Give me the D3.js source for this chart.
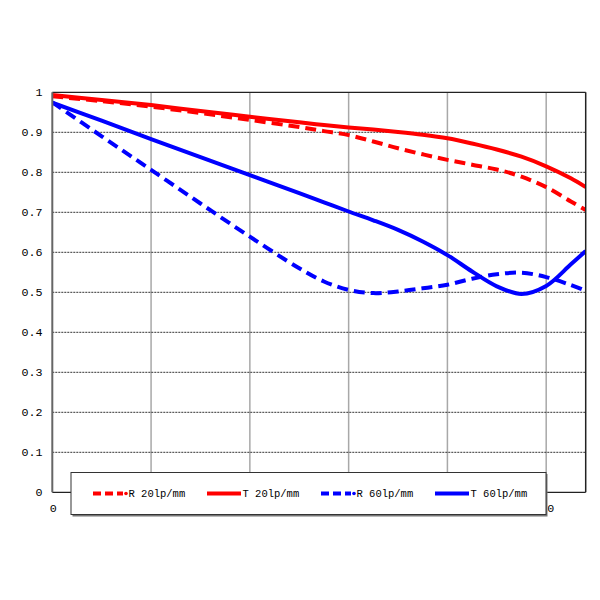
<!DOCTYPE html>
<html>
<head>
<meta charset="utf-8">
<script src="https://cdn.jsdelivr.net/npm/d3@7/dist/d3.min.js"></script>
<style>
  html, body { margin: 0; padding: 0; background: #fff; }
  svg { display: block; }
</style>
</head>
<body>
<svg id="chart" width="600" height="600"></svg>
<script>
// ---- data ----
const positions = [0, 2, 4, 6, 8, 10, 11, 12, 13, 14, 15, 16, 17, 18, 19, 20, 21, 21.6];
const r20 = [0.990, 0.978, 0.964, 0.948, 0.931, 0.913, 0.903, 0.893, 0.877, 0.860, 0.845, 0.831, 0.819, 0.807, 0.789, 0.763, 0.727, 0.706];
const t20 = [0.993, 0.981, 0.968, 0.953, 0.939, 0.925, 0.918, 0.912, 0.907, 0.901, 0.894, 0.885, 0.872, 0.857, 0.839, 0.815, 0.785, 0.763];
const r60 = [0.975, 0.890, 0.806, 0.722, 0.639, 0.560, 0.527, 0.506, 0.498, 0.502, 0.510, 0.519, 0.534, 0.545, 0.549, 0.538, 0.518, 0.504];
const t60 = [0.974, 0.929, 0.883, 0.838, 0.793, 0.748, 0.725, 0.702, 0.680, 0.656, 0.627, 0.593, 0.552, 0.515, 0.496, 0.516, 0.570, 0.603];
const yTicks = [0, 0.1, 0.2, 0.3, 0.4, 0.5, 0.6, 0.7, 0.8, 0.9, 1];
const xTicks = [0, 4, 8, 12, 16, 20];
const seriesNames = ["R 20lp/mm", "T 20lp/mm", "R 60lp/mm", "T 60lp/mm"];

const series = [
  { name: seriesNames[0], values: r20, color: "#ff0000", dashed: true },
  { name: seriesNames[1], values: t20, color: "#ff0000", dashed: false },
  { name: seriesNames[2], values: r60, color: "#0000ff", dashed: true },
  { name: seriesNames[3], values: t60, color: "#0000ff", dashed: false }
];

// ---- layout ----
const L = 52.3, R = 585.7, T = 92.3, B = 492.3;
const svg = d3.select("#chart");
const x = d3.scaleLinear().domain([0, 21.6]).range([L, R]);
const y = d3.scaleLinear().domain([0, 1]).range([B, T]);
const font = "'Liberation Mono', 'DejaVu Sans Mono', monospace";

// vertical grid
svg.append("g").selectAll("line").data(xTicks.filter(d => d > 0)).join("line")
  .attr("x1", d => x(d)).attr("x2", d => x(d))
  .attr("y1", T).attr("y2", B)
  .attr("stroke", "#a8a8a8").attr("stroke-width", 1.5);

// horizontal dotted grid
svg.append("g").selectAll("line").data(yTicks.filter(d => d > 0 && d < 1)).join("line")
  .attr("x1", L).attr("x2", R)
  .attr("y1", d => y(d)).attr("y2", d => y(d))
  .attr("stroke", "#333").attr("stroke-width", 1)
  .attr("stroke-dasharray", "2,1");

// clip
svg.append("clipPath").attr("id", "clip").append("rect")
  .attr("x", L).attr("y", T - 6).attr("width", R - L).attr("height", B - T + 6);

const line = d3.line().x((d, i) => x(positions[i])).y(d => y(d)).curve(d3.curveCatmullRom.alpha(0.5));

svg.append("g").attr("clip-path", "url(#clip)").selectAll("path").data(series).join("path")
  .attr("d", d => line(d.values))
  .attr("fill", "none")
  .attr("stroke", d => d.color)
  .attr("stroke-width", 4)
  .attr("stroke-dasharray", d => d.dashed ? "11,6" : null);

// frame
svg.append("line").attr("x1", L).attr("x2", R).attr("y1", T).attr("y2", T).attr("stroke", "#222").attr("stroke-width", 1.2);
svg.append("line").attr("x1", R).attr("x2", R).attr("y1", T).attr("y2", B).attr("stroke", "#222").attr("stroke-width", 1.5);
svg.append("line").attr("x1", L).attr("x2", R).attr("y1", B).attr("y2", B).attr("stroke", "#222").attr("stroke-width", 1.2);
svg.append("line").attr("x1", L).attr("x2", L).attr("y1", T).attr("y2", B).attr("stroke", "#666").attr("stroke-width", 2);

// y labels
svg.append("g").selectAll("text").data(yTicks).join("text")
  .attr("x", 42.5).attr("y", d => y(d)).attr("dy", "0.35em")
  .attr("text-anchor", "end")
  .attr("font-family", font).attr("font-size", 11.7).attr("fill", "#000")
  .text(d => d === 0 || d === 1 ? String(d) : d3.format(".1f")(d));

// x labels
svg.append("g").selectAll("text").data(xTicks).join("text")
  .attr("x", d => x(d) + 1).attr("y", 512)
  .attr("text-anchor", "middle")
  .attr("font-family", font).attr("font-size", 11.7).attr("fill", "#000")
  .text(d => String(d));

// legend box
const lg = svg.append("g");
lg.append("rect").attr("x", 72.5).attr("y", 474).attr("width", 475).attr("height", 42.5).attr("fill", "#777");
lg.append("rect").attr("x", 71).attr("y", 472.5).attr("width", 475).attr("height", 42).attr("fill", "#fff").attr("stroke", "#333").attr("stroke-width", 1);

const ly = 493.5;
const items = lg.selectAll("g.item").data(series).join("g").attr("class", "item")
  .attr("transform", (d, i) => `translate(${93 + i * 114},${ly})`);
items.append("line")
  .attr("x1", 0).attr("x2", d => d.dashed ? 30 : 34).attr("y1", 0).attr("y2", 0)
  .attr("stroke", d => d.color).attr("stroke-width", 4)
  .attr("stroke-dasharray", d => d.dashed ? "8,4" : null);
items.filter(d => d.dashed).append("circle")
  .attr("cx", 33).attr("cy", 0).attr("r", 1.8).attr("fill", d => d.color);
items.append("text")
  .attr("x", 35.5).attr("y", 0).attr("dy", "0.35em")
  .attr("font-family", font).attr("font-size", 10.5).attr("fill", "#000")
  .text(d => d.name);
</script>
</body>
</html>
